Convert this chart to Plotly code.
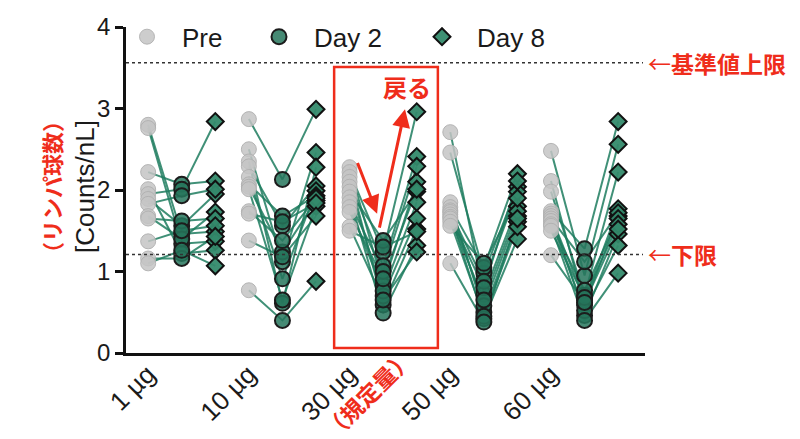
import plotly.graph_objects as go

doses = ["1 µg", "10 µg", "30 µg", "50 µg", "60 µg"]
series = ["Pre", "Day 2", "Day 8"]

pre_1 = [2.80, 2.76, 2.22, 2.01, 1.95, 1.89, 1.83, 1.68, 1.65, 1.37, 1.16, 1.10]
d2_1 = [1.46, 1.34, 2.07, 1.22, 2.01, 1.56, 1.93, 1.40, 1.62, 1.50, 1.16, 1.26]
d8_1 = [1.49, 1.37, 2.11, 1.26, 2.84, 1.95, 2.01, 1.73, 1.65, 1.56, 1.43, 1.07]

pre_10 = [2.87, 2.50, 2.35, 2.29, 2.16, 2.07, 2.04, 2.01, 1.74, 1.71, 1.38, 0.77]
d2_10 = [2.13, 1.12, 0.61, 1.56, 0.91, 1.68, 1.24, 0.65, 1.38, 1.61, 1.18, 0.40]
d8_10 = [2.99, 2.46, 2.28, 2.05, 1.99, 1.93, 1.87, 1.80, 1.90, 1.84, 1.68, 0.88]

pre_30 = [2.28, 2.22, 2.16, 2.10, 2.04, 1.98, 1.91, 1.85, 1.79, 1.73, 1.55, 1.50]
d2_30 = [0.83, 1.24, 0.59, 1.07, 0.70, 1.38, 0.49, 1.00, 0.76, 0.91, 0.65, 1.30]
d8_30 = [2.10, 2.96, 1.52, 2.41, 1.65, 1.98, 1.32, 2.29, 1.85, 2.01, 1.24, 1.49]

pre_50 = [2.71, 2.46, 1.85, 1.79, 1.75, 1.73, 1.70, 1.67, 1.65, 1.61, 1.56, 1.10]
d2_50 = [0.72, 0.98, 0.50, 1.05, 0.58, 0.88, 0.42, 0.80, 0.65, 0.45, 1.10, 0.38]
d8_50 = [1.80, 2.04, 1.61, 2.20, 1.68, 1.98, 1.40, 2.11, 1.74, 1.55, 1.90, 1.65]

pre_60 = [2.48, 2.11, 1.98, 1.74, 1.71, 1.68, 1.65, 1.62, 1.58, 1.56, 1.50, 1.20]
d2_60 = [0.95, 0.59, 0.71, 1.28, 0.46, 0.65, 1.12, 0.52, 0.77, 0.40, 0.68, 0.62]
d8_60 = [2.56, 1.68, 2.22, 2.84, 1.46, 1.77, 1.72, 1.32, 1.65, 0.98, 1.58, 1.52]

upper_limit = 3.56
lower_limit = 1.21

groups = [
    (pre_1, d2_1, d8_1),
    (pre_10, d2_10, d8_10),
    (pre_30, d2_30, d8_30),
    (pre_50, d2_50, d8_50),
    (pre_60, d2_60, d8_60),
]

RED = "#ef2d1b"
FONT = "Liberation Sans, Arial, Helvetica, sans-serif"
JFONT = "Noto Sans CJK JP, sans-serif"

# x positions: group i, series j -> 3*i + (j-1)
line_x, line_y = [], []
pts = {0: ([], []), 1: ([], []), 2: ([], [])}
for i, (p, a, b) in enumerate(groups):
    for k in range(len(p)):
        xs = [3 * i - 1, 3 * i, 3 * i + 1]
        ys = [p[k], a[k], b[k]]
        line_x += xs + [None]
        line_y += ys + [None]
        for j in range(3):
            pts[j][0].append(xs[j])
            pts[j][1].append(ys[j])

fig = go.Figure()
fig.add_trace(go.Scatter(x=line_x, y=line_y, mode="lines",
                         line=dict(color="rgba(30,125,95,0.85)", width=2),
                         showlegend=False, hoverinfo="skip"))

styles = [
    dict(symbol="circle", size=15, color="rgba(196,196,196,0.85)",
         line=dict(color="rgba(175,175,175,0.9)", width=1)),
    dict(symbol="circle", size=15, color="rgba(38,118,92,0.85)",
         line=dict(color="#1c1c1c", width=2)),
    dict(symbol="diamond", size=13, color="rgba(52,138,108,0.95)",
         line=dict(color="#111111", width=2)),
]
legend_ids = ["legend", "legend2", "legend3"]
for j in range(3):
    fig.add_trace(go.Scatter(x=pts[j][0], y=pts[j][1], mode="markers",
                             marker=styles[j], name=series[j],
                             legend=legend_ids[j]))

W, H = 800, 439
L, R, T, B = 126, 155, 27, 84
pw = W - L - R
ph = H - T - B


def px2paper(px):
    return (px - L) / pw


def py2paper(py):
    return (H - B - py) / ph


leg_common = dict(orientation="h", yanchor="middle", y=0.97, xanchor="left",
                  font=dict(family=FONT, size=26, color="#1a1a1a"),
                  bgcolor="rgba(0,0,0,0)", itemwidth=60)
fig.update_layout(
    legend=dict(x=px2paper(147 - 35), **leg_common),
    legend2=dict(x=px2paper(279 - 35), **leg_common),
    legend3=dict(x=px2paper(442 - 35), **leg_common),
)

shapes = [
    dict(type="line", xref="paper", x0=0, x1=(643 - L) / pw, yref="y",
         y0=upper_limit, y1=upper_limit, line=dict(color="#333", width=1.5, dash="dot")),
    dict(type="line", xref="paper", x0=0, x1=(643 - L) / pw, yref="y",
         y0=lower_limit, y1=lower_limit, line=dict(color="#333", width=1.5, dash="dot")),
    dict(type="rect", xref="x", yref="y", x0=4.54, x1=7.63, y0=0.06, y1=3.51,
         line=dict(color=RED, width=2.5)),
]

annotations = [
    dict(xref="paper", x=px2paper(646), y=upper_limit, yref="y", xanchor="left",
         text="←<b>基準値上限</b>", showarrow=False,
         font=dict(family=JFONT, size=23, color=RED)),
    dict(xref="paper", x=px2paper(646), y=lower_limit, yref="y", xanchor="left",
         text="←<b>下限</b>", showarrow=False,
         font=dict(family=JFONT, size=23, color=RED)),
    dict(xref="paper", x=px2paper(33), yref="paper", y=py2paper(188),
         text="<b>（リンパ球数）</b>", textangle=-90, showarrow=False,
         font=dict(family=JFONT, size=22, color=RED)),
    dict(xref="paper", x=px2paper(68), yref="paper", y=py2paper(188),
         text="[Counts/nL]", textangle=-90, showarrow=False,
         font=dict(family=FONT, size=26, color="#1a1a1a")),
    dict(xref="x", x=6.71, yref="y", y=3.27, text="<b>戻る</b>", showarrow=False,
         font=dict(family=JFONT, size=24, color=RED)),
    dict(xref="x", x=5.82, yref="y", y=1.71, axref="x", ax=5.22, ayref="y", ay=2.35,
         text="", showarrow=True, arrowhead=2, arrowsize=1.2, arrowwidth=3,
         arrowcolor=RED, standoff=0),
    dict(xref="x", x=6.65, yref="y", y=2.99, axref="x", ax=5.88, ayref="y", ay=1.52,
         text="", showarrow=True, arrowhead=2, arrowsize=1.2, arrowwidth=3,
         arrowcolor=RED, standoff=0),
    dict(xref="paper", x=px2paper(367), yref="paper", y=py2paper(396),
         xanchor="center", yanchor="middle",
         text="<b>（規定量）</b>", textangle=-45, showarrow=False,
         font=dict(family=JFONT, size=23, color=RED)),
]

fig.update_layout(
    width=W, height=H,
    margin=dict(l=L, r=R, t=T, b=B, pad=0),
    paper_bgcolor="white", plot_bgcolor="white",
    shapes=shapes, annotations=annotations,
    xaxis=dict(range=[-1.66, 13.8], tickvals=[3 * i for i in range(5)],
               ticktext=doses, tickangle=-45, showgrid=False, zeroline=False,
               showline=True, linecolor="#111", linewidth=2.5, ticks="",
               ticklabelshift=-34, ticklabelstandoff=-7,
               tickfont=dict(family=FONT, size=26, color="#1a1a1a")),
    yaxis=dict(range=[0, 4], tickvals=[0, 1, 2, 3, 4], showgrid=False, zeroline=False,
               showline=True, linecolor="#111", linewidth=2.5, ticks="outside",
               ticklen=8, tickwidth=2.5, tickcolor="#111",
               tickfont=dict(family=FONT, size=24, color="#1a1a1a")),
)

fig.write_html("out.html")
